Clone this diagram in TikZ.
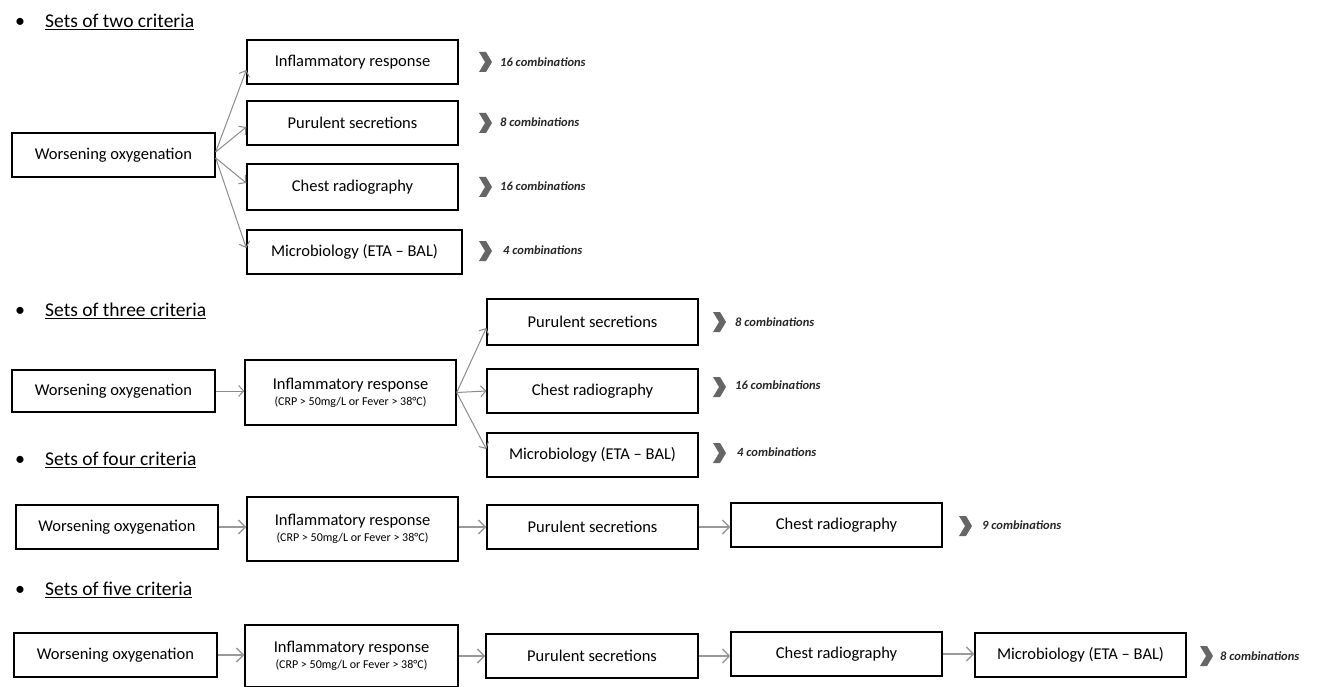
\documentclass[tikz,border=0pt]{standalone}
\usepackage{fontspec}
\setmainfont{Carlito}
\usetikzlibrary{arrows.meta}
\tikzset{
  box/.style={draw=black, line width=1.4pt, fill=white, inner sep=2pt, align=center, font=\fontsize{16.5}{17}\selectfont},
  conn/.style={draw=black!45, line width=1pt, -{Straight Barb[length=5pt,width=11pt,line width=1pt]}},
  thick conn/.style={draw=black!40, line width=2.4pt, -{Straight Barb[length=7pt,width=14pt,line width=1.3pt]}},
  head/.style={anchor=west, font=\fontsize{19.5}{21}\selectfont, inner sep=0pt},
  bul/.style={font=\fontsize{20}{21}\selectfont, inner sep=0pt},
  comb/.style={anchor=west, font=\fontsize{12.5}{14}\selectfont\bfseries\itshape, text=black!85, inner sep=0pt},
}
\newcommand{\chev}[2]{\fill[black!60] (#1-6,#2-10) -- (#1+1,#2-10) -- (#1+7,#2) -- (#1+1,#2+10) -- (#1-6,#2+10) -- (#1,#2) -- cycle;}
\newcommand{\infl}{Inflammatory response\\[-1pt]{\fontsize{12}{12}\selectfont (CRP > 50mg/L or Fever > 38°C)}}
\begin{document}
\begin{tikzpicture}[x=1pt,y=-1pt]
\useasboundingbox[fill=white] (0,0) rectangle (1317,687);
% ---- Section 1
\node[bul] (b1) at (20,23) {•};
\node[head] (h1) at (45,22) {\underline{Sets of two criteria}};
\node[box, minimum width=203, minimum height=44] (w1) at (113.5,155) {Worsening oxygenation};
\node[box, minimum width=211, minimum height=44] (a1) at (352.5,62) {Inflammatory response};
\node[box, minimum width=211, minimum height=44] (p1) at (352.5,123) {Purulent secretions};
\node[box, minimum width=211, minimum height=46] (c1) at (352.5,187) {Chest radiography};
\node[box, minimum width=215, minimum height=44] (m1) at (354.5,252) {Microbiology (ETA -- BAL)};
\draw[conn] ([yshift=3]w1.east) -- ([yshift=-8]a1.west);
\draw[conn] ([yshift=3]w1.east) -- ([yshift=-4]p1.west);
\draw[conn] ([yshift=-3]w1.east) -- ([yshift=4]c1.west);
\draw[conn] ([yshift=-3]w1.east) -- ([yshift=4]m1.west);
\chev{485}{62}\node[comb] (t1a) at (500,62) {16 combinations};
\chev{485}{123}\node[comb] (t1b) at (500,122) {8 combinations};
\chev{485}{187}\node[comb] (t1c) at (500,186) {16 combinations};
\chev{485}{251}\node[comb] (t1d) at (503,250) {4 combinations};
% ---- Section 2
\node[bul] (b2) at (20,312) {•};
\node[head] (h2) at (45,311) {\underline{Sets of three criteria}};
\node[box, minimum width=203, minimum height=42] (w2) at (113.5,391) {Worsening oxygenation};
\node[box, minimum width=211, minimum height=65] (i2) at (350.5,392.5) {\infl};
\node[box, minimum width=211, minimum height=46] (p2) at (592.5,322) {Purulent secretions};
\node[box, minimum width=211, minimum height=44] (c2) at (592.5,391) {Chest radiography};
\node[box, minimum width=211, minimum height=44] (m2) at (592.5,455) {Microbiology (ETA -- BAL)};
\draw[conn] (w2.east) -- (w2.east -| i2.west);
\draw[conn] (i2.east) -- ([yshift=-6]p2.west);
\draw[conn] (i2.east) -- (c2.west);
\draw[conn] (i2.east) -- ([yshift=6]m2.west);
\chev{719}{322}\node[comb] (t2a) at (735,322) {8 combinations};
\chev{719}{387}\node[comb] (t2b) at (735,385) {16 combinations};
\chev{719}{453}\node[comb] (t2c) at (737,452) {4 combinations};
% ---- Section 3
\node[bul] (b3) at (20,461) {•};
\node[head] (h3) at (45,460) {\underline{Sets of four criteria}};
\node[box, minimum width=202, minimum height=44] (w3) at (117,527) {Worsening oxygenation};
\node[box, minimum width=211, minimum height=64] (i3) at (352.5,529) {\infl};
\node[box, minimum width=211, minimum height=44] (p3) at (592.5,527) {Purulent secretions};
\node[box, minimum width=211, minimum height=44] (c3) at (836.5,525) {Chest radiography};
\draw[thick conn] (w3.east) -- (w3.east -| i3.west);
\draw[thick conn] (p3.west -| i3.east) -- (p3.west);
\draw[thick conn] (p3.east) -- (p3.east -| c3.west);
\chev{965}{526}\node[comb] (t3) at (982,525) {9 combinations};
% ---- Section 4
\node[bul] (b4) at (20,591) {•};
\node[head] (h4) at (45,590) {\underline{Sets of five criteria}};
\node[box, minimum width=203, minimum height=44] (w4) at (115.5,655) {Worsening oxygenation};
\node[box, minimum width=213, minimum height=62] (i4) at (351.5,656) {\infl};
\node[box, minimum width=212, minimum height=44] (p4) at (592,656) {Purulent secretions};
\node[box, minimum width=211, minimum height=44] (c4) at (836.5,654) {Chest radiography};
\node[box, minimum width=211, minimum height=44] (m4) at (1080.5,655) {Microbiology (ETA -- BAL)};
\draw[thick conn] (w4.east) -- (w4.east -| i4.west);
\draw[thick conn] (p4.west -| i4.east) -- (p4.west);
\draw[thick conn] (p4.east) -- (p4.east -| c4.west);
\draw[thick conn] (c4.east) -- (c4.east -| m4.west);
\chev{1206}{656}\node[comb] (t4) at (1220,656) {8 combinations};
\end{tikzpicture}
\end{document}
